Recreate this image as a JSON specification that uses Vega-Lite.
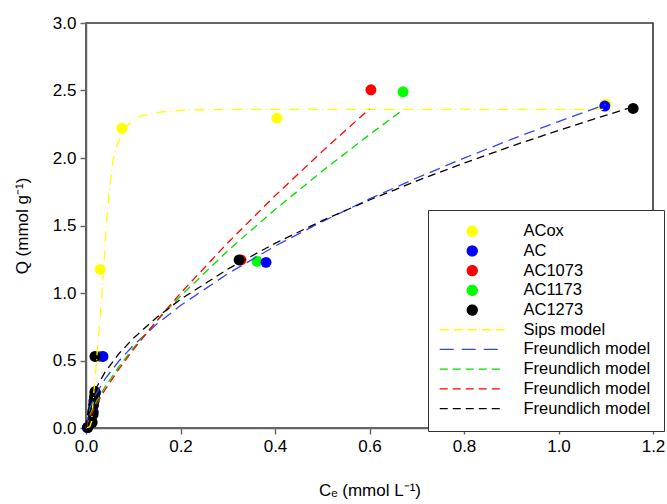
{
  "$schema": "https://vega.github.io/schema/vega-lite/v6.json",
  "width": 567,
  "height": 405,
  "autosize": "none",
  "padding": {"left": 86, "top": 23, "right": 14, "bottom": 76},
  "background": "white",
  "config": {
    "font": "Liberation Sans",
    "view": {"stroke": "#333333", "strokeWidth": 1.6},
    "axis": {
      "grid": false,
      "labelFlush": false,
      "domainColor": "#666666",
      "domainWidth": 1.5,
      "tickColor": "#666666",
      "tickWidth": 1.45,
      "tickSize": 6,
      "labelFontSize": 17,
      "labelColor": "#000000",
      "titleFontSize": 17,
      "titleFontWeight": "normal",
      "titleColor": "#000000"
    }
  },
  "datasets": {
    "points": [
      {"series": "ACox", "C": 0.003, "Q": 0.003},
      {"series": "ACox", "C": 0.012, "Q": 0.05},
      {"series": "ACox", "C": 0.015, "Q": 0.12},
      {"series": "ACox", "C": 0.017, "Q": 0.2},
      {"series": "ACox", "C": 0.019, "Q": 0.26},
      {"series": "ACox", "C": 0.03, "Q": 1.175},
      {"series": "ACox", "C": 0.076, "Q": 2.22},
      {"series": "ACox", "C": 0.404, "Q": 2.295},
      {"series": "ACox", "C": 1.1, "Q": 2.40},
      {"series": "AC1073", "C": 0.003, "Q": 0.003},
      {"series": "AC1073", "C": 0.012, "Q": 0.05},
      {"series": "AC1073", "C": 0.015, "Q": 0.12},
      {"series": "AC1073", "C": 0.017, "Q": 0.2},
      {"series": "AC1073", "C": 0.019, "Q": 0.26},
      {"series": "AC1073", "C": 0.03, "Q": 0.53},
      {"series": "AC1073", "C": 0.328, "Q": 1.245},
      {"series": "AC1073", "C": 0.603, "Q": 2.505},
      {"series": "AC1173", "C": 0.003, "Q": 0.003},
      {"series": "AC1173", "C": 0.012, "Q": 0.05},
      {"series": "AC1173", "C": 0.015, "Q": 0.12},
      {"series": "AC1173", "C": 0.017, "Q": 0.2},
      {"series": "AC1173", "C": 0.019, "Q": 0.26},
      {"series": "AC1173", "C": 0.033, "Q": 0.53},
      {"series": "AC1173", "C": 0.362, "Q": 1.235},
      {"series": "AC1173", "C": 0.671, "Q": 2.49},
      {"series": "AC", "C": 0.003, "Q": 0.003},
      {"series": "AC", "C": 0.012, "Q": 0.05},
      {"series": "AC", "C": 0.015, "Q": 0.12},
      {"series": "AC", "C": 0.017, "Q": 0.2},
      {"series": "AC", "C": 0.02, "Q": 0.26},
      {"series": "AC", "C": 0.036, "Q": 0.53},
      {"series": "AC", "C": 0.381, "Q": 1.227},
      {"series": "AC", "C": 1.098, "Q": 2.385},
      {"series": "AC1273", "C": 0.004, "Q": 0.005},
      {"series": "AC1273", "C": 0.013, "Q": 0.04},
      {"series": "AC1273", "C": 0.015, "Q": 0.1},
      {"series": "AC1273", "C": 0.016, "Q": 0.17},
      {"series": "AC1273", "C": 0.018, "Q": 0.23},
      {"series": "AC1273", "C": 0.019, "Q": 0.27},
      {"series": "AC1273", "C": 0.019, "Q": 0.53},
      {"series": "AC1273", "C": 0.324, "Q": 1.245},
      {"series": "AC1273", "C": 1.158, "Q": 2.367}
    ],
    "curves": [
      {"series": "Sips model", "C": 0, "Q": 0},
      {"series": "Sips model", "C": 0.008, "Q": 0.01},
      {"series": "Sips model", "C": 0.012, "Q": 0.05},
      {"series": "Sips model", "C": 0.015, "Q": 0.2},
      {"series": "Sips model", "C": 0.02, "Q": 0.4},
      {"series": "Sips model", "C": 0.024, "Q": 0.58},
      {"series": "Sips model", "C": 0.03, "Q": 0.82},
      {"series": "Sips model", "C": 0.033, "Q": 0.97},
      {"series": "Sips model", "C": 0.038, "Q": 1.22},
      {"series": "Sips model", "C": 0.044, "Q": 1.55},
      {"series": "Sips model", "C": 0.05, "Q": 1.78},
      {"series": "Sips model", "C": 0.057, "Q": 1.98},
      {"series": "Sips model", "C": 0.065, "Q": 2.09},
      {"series": "Sips model", "C": 0.075, "Q": 2.17},
      {"series": "Sips model", "C": 0.09, "Q": 2.25},
      {"series": "Sips model", "C": 0.114, "Q": 2.31},
      {"series": "Sips model", "C": 0.157, "Q": 2.34},
      {"series": "Sips model", "C": 0.2, "Q": 2.355},
      {"series": "Sips model", "C": 0.3, "Q": 2.36},
      {"series": "Sips model", "C": 0.6, "Q": 2.36},
      {"series": "Sips model", "C": 1.1, "Q": 2.36},
      {"series": "Freundlich model AC", "C": 0, "Q": 0},
      {"series": "Freundlich model AC", "C": 0.005, "Q": 0.111},
      {"series": "Freundlich model AC", "C": 0.01, "Q": 0.164},
      {"series": "Freundlich model AC", "C": 0.02, "Q": 0.244},
      {"series": "Freundlich model AC", "C": 0.04, "Q": 0.362},
      {"series": "Freundlich model AC", "C": 0.07, "Q": 0.498},
      {"series": "Freundlich model AC", "C": 0.1, "Q": 0.611},
      {"series": "Freundlich model AC", "C": 0.15, "Q": 0.77},
      {"series": "Freundlich model AC", "C": 0.2, "Q": 0.907},
      {"series": "Freundlich model AC", "C": 0.3, "Q": 1.143},
      {"series": "Freundlich model AC", "C": 0.4, "Q": 1.347},
      {"series": "Freundlich model AC", "C": 0.5, "Q": 1.529},
      {"series": "Freundlich model AC", "C": 0.6, "Q": 1.697},
      {"series": "Freundlich model AC", "C": 0.7, "Q": 1.852},
      {"series": "Freundlich model AC", "C": 0.8, "Q": 1.999},
      {"series": "Freundlich model AC", "C": 0.9, "Q": 2.138},
      {"series": "Freundlich model AC", "C": 1.0, "Q": 2.27},
      {"series": "Freundlich model AC", "C": 1.1, "Q": 2.397},
      {"series": "Freundlich model AC1173", "C": 0, "Q": 0},
      {"series": "Freundlich model AC1173", "C": 0.005, "Q": 0.067},
      {"series": "Freundlich model AC1173", "C": 0.01, "Q": 0.111},
      {"series": "Freundlich model AC1173", "C": 0.02, "Q": 0.183},
      {"series": "Freundlich model AC1173", "C": 0.04, "Q": 0.303},
      {"series": "Freundlich model AC1173", "C": 0.07, "Q": 0.456},
      {"series": "Freundlich model AC1173", "C": 0.1, "Q": 0.591},
      {"series": "Freundlich model AC1173", "C": 0.15, "Q": 0.793},
      {"series": "Freundlich model AC1173", "C": 0.2, "Q": 0.978},
      {"series": "Freundlich model AC1173", "C": 0.3, "Q": 1.313},
      {"series": "Freundlich model AC1173", "C": 0.4, "Q": 1.618},
      {"series": "Freundlich model AC1173", "C": 0.5, "Q": 1.903},
      {"series": "Freundlich model AC1173", "C": 0.6, "Q": 2.173},
      {"series": "Freundlich model AC1173", "C": 0.67, "Q": 2.355},
      {"series": "Freundlich model AC1073", "C": 0, "Q": 0},
      {"series": "Freundlich model AC1073", "C": 0.005, "Q": 0.055},
      {"series": "Freundlich model AC1073", "C": 0.01, "Q": 0.095},
      {"series": "Freundlich model AC1073", "C": 0.02, "Q": 0.164},
      {"series": "Freundlich model AC1073", "C": 0.04, "Q": 0.282},
      {"series": "Freundlich model AC1073", "C": 0.07, "Q": 0.438},
      {"series": "Freundlich model AC1073", "C": 0.1, "Q": 0.579},
      {"series": "Freundlich model AC1073", "C": 0.15, "Q": 0.796},
      {"series": "Freundlich model AC1073", "C": 0.2, "Q": 0.998},
      {"series": "Freundlich model AC1073", "C": 0.3, "Q": 1.372},
      {"series": "Freundlich model AC1073", "C": 0.4, "Q": 1.72},
      {"series": "Freundlich model AC1073", "C": 0.5, "Q": 2.049},
      {"series": "Freundlich model AC1073", "C": 0.6, "Q": 2.364},
      {"series": "Freundlich model AC1273", "C": 0, "Q": 0},
      {"series": "Freundlich model AC1273", "C": 0.005, "Q": 0.14},
      {"series": "Freundlich model AC1273", "C": 0.01, "Q": 0.2},
      {"series": "Freundlich model AC1273", "C": 0.02, "Q": 0.287},
      {"series": "Freundlich model AC1273", "C": 0.04, "Q": 0.412},
      {"series": "Freundlich model AC1273", "C": 0.07, "Q": 0.552},
      {"series": "Freundlich model AC1273", "C": 0.1, "Q": 0.664},
      {"series": "Freundlich model AC1273", "C": 0.15, "Q": 0.82},
      {"series": "Freundlich model AC1273", "C": 0.2, "Q": 0.953},
      {"series": "Freundlich model AC1273", "C": 0.3, "Q": 1.177},
      {"series": "Freundlich model AC1273", "C": 0.4, "Q": 1.368},
      {"series": "Freundlich model AC1273", "C": 0.5, "Q": 1.536},
      {"series": "Freundlich model AC1273", "C": 0.6, "Q": 1.689},
      {"series": "Freundlich model AC1273", "C": 0.7, "Q": 1.83},
      {"series": "Freundlich model AC1273", "C": 0.8, "Q": 1.962},
      {"series": "Freundlich model AC1273", "C": 0.9, "Q": 2.087},
      {"series": "Freundlich model AC1273", "C": 1.0, "Q": 2.204},
      {"series": "Freundlich model AC1273", "C": 1.1, "Q": 2.316},
      {"series": "Freundlich model AC1273", "C": 1.16, "Q": 2.381}
    ]
  },
  "encoding": {
    "x": {
      "field": "C", "type": "quantitative",
      "scale": {"domain": [0, 1.2], "nice": false, "zero": false},
      "axis": {"values": [0, 0.2, 0.4, 0.6, 0.8, 1.0, 1.2], "format": ".1f", "title": "Cₑ (mmol L⁻¹)", "labelPadding": 4, "titlePadding": 28}
    },
    "y": {
      "field": "Q", "type": "quantitative",
      "scale": {"domain": [0, 3], "nice": false, "zero": false},
      "axis": {"values": [0, 0.5, 1.0, 1.5, 2.0, 2.5, 3.0], "format": ".1f", "title": "Q (mmol g⁻¹)", "labelPadding": 4, "titlePadding": 21}
    },
    "color": {
      "field": "series", "type": "nominal",
      "scale": {
        "domain": ["ACox", "AC", "AC1073", "AC1173", "AC1273", "Sips model", "Freundlich model AC", "Freundlich model AC1173", "Freundlich model AC1073", "Freundlich model AC1273"],
        "range": ["#ffff00", "#0000ff", "#ff0000", "#00ff00", "#000000", "#ffff00", "#3344ff", "#00dd00", "#ff0000", "#000000"]
      },
      "legend": {
        "title": null,
        "orient": "none",
        "legendX": 342,
        "legendY": 187,
        "padding": 13,
        "strokeColor": "#333333",
        "fillColor": "#ffffff",
        "labelFontSize": 16.5,
        "labelColor": "#000000",
        "symbolSize": 100,
        "symbolOffset": 23,
        "labelOffset": 43,
        "rowPadding": 2.7,
        "labelLimit": 200,
        "labelExpr": "indexof(datum.label, 'Freundlich') >= 0 ? 'Freundlich model' : datum.label",
        "symbolType": {"expr": "indexof(datum.value, 'model') >= 0 ? 'M-6.5,0H6.5' : 'circle'"},
        "symbolStrokeWidth": 1.3,
        "symbolOpacity": 1,
        "symbolDash": {"expr": "datum.value == 'Sips model' ? [9, 2, 1, 2] : (datum.value == 'Freundlich model AC' ? [14, 8] : (indexof(datum.value, 'model') >= 0 ? [8, 5] : [1, 0]))"},
        "symbolStrokeColor": {"expr": "scale('color', datum.value)"},
        "symbolFillColor": {"expr": "indexof(datum.value, 'model') >= 0 ? 'transparent' : scale('color', datum.value)"}
      }
    }
  },
  "layer": [
    {
      "data": {"name": "points"},
      "mark": {"type": "point", "filled": true, "size": 120, "opacity": 1}
    },
    {
      "data": {"name": "curves"},
      "mark": {"type": "line", "strokeWidth": 1.3, "opacity": 1},
      "encoding": {
        "strokeDash": {
          "field": "series", "type": "nominal",
          "scale": {
            "domain": ["Sips model", "Freundlich model AC", "Freundlich model AC1173", "Freundlich model AC1073", "Freundlich model AC1273"],
            "range": [[10, 4, 1, 4], [11, 6], [8, 5], [8, 5], [8, 5]]
          },
          "legend": null
        }
      }
    }
  ]
}
